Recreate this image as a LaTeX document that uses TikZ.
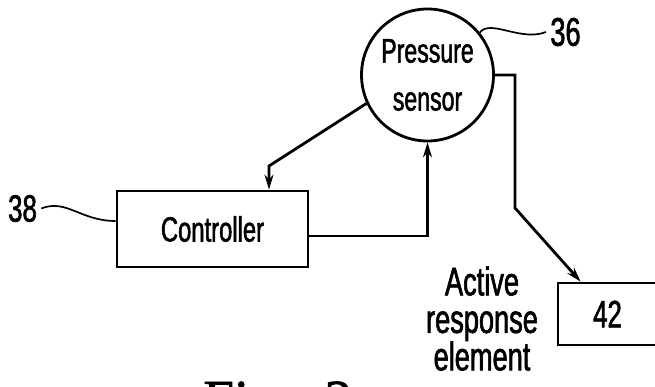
\documentclass[tikz,border=0pt]{standalone}
\usepackage{fontspec}
\setmainfont{Liberation Sans}[FakeStretch=0.68,FakeBold=1.5]
\newfontfamily\figfont{Liberation Serif}[FakeBold=1.5]
\usetikzlibrary{arrows.meta,calc}
\begin{document}
\begin{tikzpicture}[x=1pt,y=-1pt,line width=2.8pt,
  lbl/.style={inner sep=0pt,font=\fontsize{#1}{#1}\selectfont},
  blockbox/.style={draw,rectangle,inner sep=0pt},
  arr/.style={-{Stealth[length=15pt,width=9pt]}},
  leader/.style={line width=1.7pt}]
\useasboundingbox (0,0) rectangle (655,387);
\clip (0,0) rectangle (655,387);
% nodes
\node[draw,circle,minimum size=132pt,inner sep=0pt,align=center,
      font=\fontsize{34}{48}\selectfont] (ps) at (427.5,75) {Pressure\\sensor};
\node[blockbox,minimum width=191pt,minimum height=76pt,
      font=\fontsize{35}{35}\selectfont] (ctl) at (212.5,229) {Controller};
\node[blockbox,minimum width=99pt,minimum height=62pt,
      font=\fontsize{38}{38}\selectfont] (are) at (607.5,314) {42};
\node[inner sep=0pt,anchor=north,align=center,font=\fontsize{40}{37.5}\selectfont] (arelbl) at (482,265) {Active\\response\\element};
\node[lbl=40,inner sep=3pt] (n36) at (565.5,32) {36};
\node[lbl=38,inner sep=3pt] (n38) at (22.5,208.5) {38};
\node[anchor=base west,inner sep=0pt,font=\figfont\fontsize{55}{55}\selectfont] (fig) at (202,418) {Fig.\hspace{34pt}3};
% coordinates
\coordinate (b1) at (269,166);
\coordinate (r1) at (515,75);
\coordinate (r2) at (515,208);
\coordinate (tip) at ($(are.north west)+(24,0)$);
% connectors
\draw[arr] (ps.205.8) -- (b1) -- (b1 |- ctl.north);
\draw[arr] ([yshift=-7pt]ctl.east) -| (ps.south);
\draw[arr] (ps.east) -- (r1) -- (r2) -- (tip);
% leaders
\draw[leader] (ps.39.5) .. controls ($(ps.39.5)+(10,-14)$) and ($(n36.west)+(-25,10)$) .. (n36.west);
\draw[leader] (n38.east) .. controls ($(n38.east)+(25,-10)$) and ($(ctl.west)+(-35,-8)$) .. ([yshift=8pt]ctl.west);
\end{tikzpicture}
\end{document}
